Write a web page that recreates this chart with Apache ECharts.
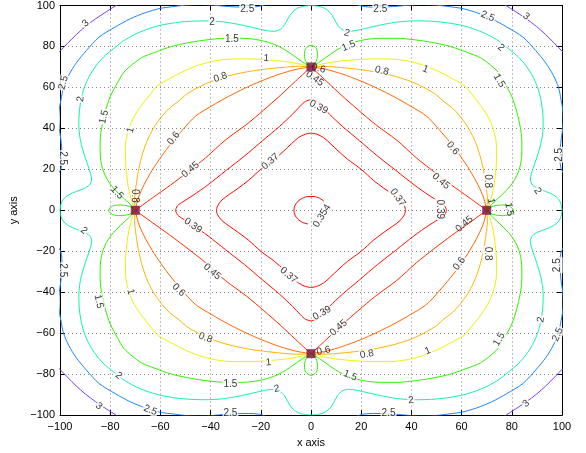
<!DOCTYPE html>
<html><head><meta charset="utf-8">
<script src="https://cdn.jsdelivr.net/npm/echarts@6/dist/echarts.min.js"></script>
<style>html,body{margin:0;padding:0;background:#fff}#chart{width:586px;height:453px}</style>
</head><body><div id="chart"></div>
<script>
// Contour levels and their colours
const levels = [0.354, 0.37, 0.39, 0.45, 0.6, 0.8, 1, 1.5, 2, 2.5, 3];
const levelColors = ['#ff0000', '#ff0700', '#ff0f00', '#ff2800', '#ff6700', '#ffb400', '#f0f000', '#2ef000', '#10f0b0', '#1a86ff', '#7a3cff'];

// Beacon positions
const beacons = [[-70, 0], [70, 0], [0, 70], [0, -70]];

// Axis ticks
const xTicks = [-100, -80, -60, -40, -20, 0, 20, 40, 60, 80, 100];
const yTicks = [-100, -80, -60, -40, -20, 0, 20, 40, 60, 80, 100];

// Contour polylines, one array of pieces per level
const c0354 = [
  [[5.2,4.4],[3.4,5.9],[1.2,6.7],[-1.2,6.7],[-3.4,5.9],[-5.2,4.4],[-6.4,2.3],[-6.8,0],[-6.4,-2.3],[-5.2,-4.4],[-3.4,-5.9],[-1.2,-6.7]]
];
const c037 = [
  [[-37.7,0],[-37.2,2.2],[-35.5,5],[-32.5,7.8],[-29,10.8],[-25,14.5],[-20,20],[-14.5,25],[-10.8,29],[-7.8,32.5],[-5,35.5],[-2.2,37.2],[0,37.7]],
  [[37.7,0],[37.2,2.2],[35.5,5],[32.5,7.8],[29,10.8],[25,14.5],[20,20],[14.5,25],[10.8,29],[7.8,32.5],[5,35.5],[2.2,37.2],[0,37.7]],
  [[37.7,0],[37.2,-2.2],[35.5,-5],[32.5,-7.8],[29,-10.8],[25,-14.5],[20,-20],[14.5,-25],[10.8,-29],[7.8,-32.5],[5,-35.5],[2.2,-37.2],[0,-37.7]],
  [[-37.7,0],[-37.2,-2.2],[-35.5,-5],[-32.5,-7.8],[-29,-10.8],[-25,-14.5],[-20,-20],[-14.5,-25],[-10.8,-29],[-7.8,-32.5],[-5,-35.5],[-2.2,-37.2],[0,-37.7]]
];
const c039 = [
  [[-54,0],[-53.2,2.2],[-51,4.2],[-47,7.3],[-41,12.5],[-34,19.3],[-26.5,26.5],[-19.3,34],[-12.5,41],[-7.3,47],[-4.2,51],[-2.2,53.2],[0,54]],
  [[54,0],[53.2,2.2],[51,4.2],[47,7.3],[41,12.5],[34,19.3],[26.5,26.5],[19.3,34],[12.5,41],[7.3,47],[4.2,51],[2.2,53.2],[0,54]],
  [[54,0],[53.2,-2.2],[51,-4.2],[47,-7.3],[41,-12.5],[34,-19.3],[26.5,-26.5],[19.3,-34],[12.5,-41],[7.3,-47],[4.2,-51],[2.2,-53.2],[0,-54]],
  [[-54,0],[-53.2,-2.2],[-51,-4.2],[-47,-7.3],[-41,-12.5],[-34,-19.3],[-26.5,-26.5],[-19.3,-34],[-12.5,-41],[-7.3,-47],[-4.2,-51],[-2.2,-53.2],[0,-54]]
];
const c045 = [
  [[-70,0],[-63,6.2],[-56,12.3],[-49,18.8],[-42,25.6],[-34.2,34.2],[-25.6,42],[-18.8,49],[-12.3,56],[-6.2,63],[0,70]],
  [[70,0],[63,6.2],[56,12.3],[49,18.8],[42,25.6],[34.2,34.2],[25.6,42],[18.8,49],[12.3,56],[6.2,63],[0,70]],
  [[70,0],[63,-6.2],[56,-12.3],[49,-18.8],[42,-25.6],[34.2,-34.2],[25.6,-42],[18.8,-49],[12.3,-56],[6.2,-63],[0,-70]],
  [[-70,0],[-63,-6.2],[-56,-12.3],[-49,-18.8],[-42,-25.6],[-34.2,-34.2],[-25.6,-42],[-18.8,-49],[-12.3,-56],[-6.2,-63],[0,-70]]
];
const c06 = [
  [[-70,0],[-68.8,6],[-66.5,12.5],[-63.3,19.5],[-59.5,26.5],[-55.5,33],[-51,39.5],[-46,46],[-39.5,51],[-33,55.5],[-26.5,59.5],[-19.5,63.3],[-12.5,66.5],[-6,68.8],[0,70]],
  [[70,0],[68.8,6],[66.5,12.5],[63.3,19.5],[59.5,26.5],[55.5,33],[51,39.5],[46,46],[39.5,51],[33,55.5],[26.5,59.5],[19.5,63.3],[12.5,66.5],[6,68.8],[0,70]],
  [[70,0],[68.8,-6],[66.5,-12.5],[63.3,-19.5],[59.5,-26.5],[55.5,-33],[51,-39.5],[46,-46],[39.5,-51],[33,-55.5],[26.5,-59.5],[19.5,-63.3],[12.5,-66.5],[6,-68.8],[0,-70]],
  [[-70,0],[-68.8,-6],[-66.5,-12.5],[-63.3,-19.5],[-59.5,-26.5],[-55.5,-33],[-51,-39.5],[-46,-46],[-39.5,-51],[-33,-55.5],[-26.5,-59.5],[-19.5,-63.3],[-12.5,-66.5],[-6,-68.8],[0,-70]]
];
const c08 = [
  [[-70,0],[-70.3,5],[-69.7,12],[-68.8,19],[-67.5,26],[-65.6,33],[-62.8,40],[-59.3,46],[-56.3,50],[-53,53],[-50,56.3],[-46,59.3],[-40,62.8],[-33,65.6],[-26,67.5],[-19,68.8],[-12,69.7],[-5,70.3],[0,70]],
  [[70,0],[70.3,5],[69.7,12],[68.8,19],[67.5,26],[65.6,33],[62.8,40],[59.3,46],[56.3,50],[53,53],[50,56.3],[46,59.3],[40,62.8],[33,65.6],[26,67.5],[19,68.8],[12,69.7],[5,70.3],[0,70]],
  [[70,0],[70.3,-5],[69.7,-12],[68.8,-19],[67.5,-26],[65.6,-33],[62.8,-40],[59.3,-46],[56.3,-50],[53,-53],[50,-56.3],[46,-59.3],[40,-62.8],[33,-65.6],[26,-67.5],[19,-68.8],[12,-69.7],[5,-70.3],[0,-70]],
  [[-70,0],[-70.3,-5],[-69.7,-12],[-68.8,-19],[-67.5,-26],[-65.6,-33],[-62.8,-40],[-59.3,-46],[-56.3,-50],[-53,-53],[-50,-56.3],[-46,-59.3],[-40,-62.8],[-33,-65.6],[-26,-67.5],[-19,-68.8],[-12,-69.7],[-5,-70.3],[0,-70]]
];
const c1 = [
  [[-70,0],[-71.3,4],[-72.6,10],[-73.4,17],[-73.9,24],[-73.9,31],[-73,38],[-71,44.5],[-68,50.5],[-64.5,56],[-61,61],[-56,64.5],[-50.5,68],[-44.5,71],[-38,73],[-31,73.9],[-24,73.9],[-17,73.4],[-10,72.6],[-4,71.3],[0,70]],
  [[70,0],[71.3,4],[72.6,10],[73.4,17],[73.9,24],[73.9,31],[73,38],[71,44.5],[68,50.5],[64.5,56],[61,61],[56,64.5],[50.5,68],[44.5,71],[38,73],[31,73.9],[24,73.9],[17,73.4],[10,72.6],[4,71.3],[0,70]],
  [[70,0],[71.3,-4],[72.6,-10],[73.4,-17],[73.9,-24],[73.9,-31],[73,-38],[71,-44.5],[68,-50.5],[64.5,-56],[61,-61],[56,-64.5],[50.5,-68],[44.5,-71],[38,-73],[31,-73.9],[24,-73.9],[17,-73.4],[10,-72.6],[4,-71.3],[0,-70]],
  [[-70,0],[-71.3,-4],[-72.6,-10],[-73.4,-17],[-73.9,-24],[-73.9,-31],[-73,-38],[-71,-44.5],[-68,-50.5],[-64.5,-56],[-61,-61],[-56,-64.5],[-50.5,-68],[-44.5,-71],[-38,-73],[-31,-73.9],[-24,-73.9],[-17,-73.4],[-10,-72.6],[-4,-71.3],[0,-70]]
];
const c15 = [
  [[-70,0],[-72.5,3.5],[-76,7.5],[-79.5,12],[-82,17],[-83.5,22.5],[-84,28],[-84,34],[-83.3,41],[-82,48],[-80,55.5],[-77,62.5],[-74.5,67.5],[-71.2,71.2],[-67.5,74.5],[-62.5,77],[-55.5,80],[-48,82],[-41,83.3],[-34,84],[-28,84],[-22.5,83.5],[-17,82],[-12,79.5],[-7.5,76],[-3.5,72.5],[0,70]],
  [[70,0],[72.5,3.5],[76,7.5],[79.5,12],[82,17],[83.5,22.5],[84,28],[84,34],[83.3,41],[82,48],[80,55.5],[77,62.5],[74.5,67.5],[71.2,71.2],[67.5,74.5],[62.5,77],[55.5,80],[48,82],[41,83.3],[34,84],[28,84],[22.5,83.5],[17,82],[12,79.5],[7.5,76],[3.5,72.5],[0,70]],
  [[70,0],[72.5,-3.5],[76,-7.5],[79.5,-12],[82,-17],[83.5,-22.5],[84,-28],[84,-34],[83.3,-41],[82,-48],[80,-55.5],[77,-62.5],[74.5,-67.5],[71.2,-71.2],[67.5,-74.5],[62.5,-77],[55.5,-80],[48,-82],[41,-83.3],[34,-84],[28,-84],[22.5,-83.5],[17,-82],[12,-79.5],[7.5,-76],[3.5,-72.5],[0,-70]],
  [[-70,0],[-72.5,-3.5],[-76,-7.5],[-79.5,-12],[-82,-17],[-83.5,-22.5],[-84,-28],[-84,-34],[-83.3,-41],[-82,-48],[-80,-55.5],[-77,-62.5],[-74.5,-67.5],[-71.2,-71.2],[-67.5,-74.5],[-62.5,-77],[-55.5,-80],[-48,-82],[-41,-83.3],[-34,-84],[-28,-84],[-22.5,-83.5],[-17,-82],[-12,-79.5],[-7.5,-76],[-3.5,-72.5],[0,-70]],
  [[-70,0],[-72.5,2],[-76,2.6],[-79,2.1],[-80.6,0],[-79,-2.1],[-76,-2.6],[-72.5,-2],[-70,0]],
  [[70,0],[72.5,2],[76,2.6],[79,2.1],[80.6,0],[79,-2.1],[76,-2.6],[72.5,-2],[70,0]],
  [[0,70],[-2,72.5],[-2.6,76],[-2.1,79],[0,80.6],[2.1,79],[2.6,76],[2,72.5],[0,70]],
  [[0,-70],[-2,-72.5],[-2.6,-76],[-2.1,-79],[0,-80.6],[2.1,-79],[2.6,-76],[2,-72.5],[0,-70]]
];
const c2 = [
  [[-100,0],[-99.6,3],[-98.6,5.5],[-96.5,7.6],[-93.5,9.2],[-90.5,10.6],[-88.3,12.3],[-87.4,14.8],[-87.8,18],[-89.2,23],[-90.8,29],[-92,35],[-92.5,42],[-92.3,48],[-91.6,54],[-90.3,60],[-88.3,65.5],[-85.7,70.5],[-82.5,75],[-78.8,78.8],[-75,82.5],[-70.5,85.7],[-65.5,88.3],[-60,90.3],[-54,91.6],[-48,92.3],[-42,92.5],[-35,92],[-29,90.8],[-23,89.2],[-18,87.8],[-14.8,87.4],[-12.3,88.3],[-10.6,90.5],[-9.2,93.5],[-7.6,96.5],[-5.5,98.6],[-3,99.6],[0,100]],
  [[100,0],[99.6,3],[98.6,5.5],[96.5,7.6],[93.5,9.2],[90.5,10.6],[88.3,12.3],[87.4,14.8],[87.8,18],[89.2,23],[90.8,29],[92,35],[92.5,42],[92.3,48],[91.6,54],[90.3,60],[88.3,65.5],[85.7,70.5],[82.5,75],[78.8,78.8],[75,82.5],[70.5,85.7],[65.5,88.3],[60,90.3],[54,91.6],[48,92.3],[42,92.5],[35,92],[29,90.8],[23,89.2],[18,87.8],[14.8,87.4],[12.3,88.3],[10.6,90.5],[9.2,93.5],[7.6,96.5],[5.5,98.6],[3,99.6],[0,100]],
  [[100,0],[99.6,-3],[98.6,-5.5],[96.5,-7.6],[93.5,-9.2],[90.5,-10.6],[88.3,-12.3],[87.4,-14.8],[87.8,-18],[89.2,-23],[90.8,-29],[92,-35],[92.5,-42],[92.3,-48],[91.6,-54],[90.3,-60],[88.3,-65.5],[85.7,-70.5],[82.5,-75],[78.8,-78.8],[75,-82.5],[70.5,-85.7],[65.5,-88.3],[60,-90.3],[54,-91.6],[48,-92.3],[42,-92.5],[35,-92],[29,-90.8],[23,-89.2],[18,-87.8],[14.8,-87.4],[12.3,-88.3],[10.6,-90.5],[9.2,-93.5],[7.6,-96.5],[5.5,-98.6],[3,-99.6],[0,-100]],
  [[-100,0],[-99.6,-3],[-98.6,-5.5],[-96.5,-7.6],[-93.5,-9.2],[-90.5,-10.6],[-88.3,-12.3],[-87.4,-14.8],[-87.8,-18],[-89.2,-23],[-90.8,-29],[-92,-35],[-92.5,-42],[-92.3,-48],[-91.6,-54],[-90.3,-60],[-88.3,-65.5],[-85.7,-70.5],[-82.5,-75],[-78.8,-78.8],[-75,-82.5],[-70.5,-85.7],[-65.5,-88.3],[-60,-90.3],[-54,-91.6],[-48,-92.3],[-42,-92.5],[-35,-92],[-29,-90.8],[-23,-89.2],[-18,-87.8],[-14.8,-87.4],[-12.3,-88.3],[-10.6,-90.5],[-9.2,-93.5],[-7.6,-96.5],[-5.5,-98.6],[-3,-99.6],[0,-100]]
];
const c25 = [
  [[-104,0],[-103,10],[-101,17],[-99.6,20.5],[-99.2,25],[-99.3,30],[-99.7,35],[-100.3,40],[-100.5,45],[-100.2,50],[-99.6,54],[-98.6,60],[-96.5,66],[-93.5,72],[-89.5,78],[-84.5,84.5],[-78,89.5],[-72,93.5],[-66,96.5],[-60,98.6],[-54,99.6],[-50,100.2],[-45,100.5],[-40,100.3],[-35,99.7],[-30,99.3],[-25,99.2],[-20.5,99.6],[-17,101],[-10,103],[0,104]],
  [[104,0],[103,10],[101,17],[99.6,20.5],[99.2,25],[99.3,30],[99.7,35],[100.3,40],[100.5,45],[100.2,50],[99.6,54],[98.6,60],[96.5,66],[93.5,72],[89.5,78],[84.5,84.5],[78,89.5],[72,93.5],[66,96.5],[60,98.6],[54,99.6],[50,100.2],[45,100.5],[40,100.3],[35,99.7],[30,99.3],[25,99.2],[20.5,99.6],[17,101],[10,103],[0,104]],
  [[104,0],[103,-10],[101,-17],[99.6,-20.5],[99.2,-25],[99.3,-30],[99.7,-35],[100.3,-40],[100.5,-45],[100.2,-50],[99.6,-54],[98.6,-60],[96.5,-66],[93.5,-72],[89.5,-78],[84.5,-84.5],[78,-89.5],[72,-93.5],[66,-96.5],[60,-98.6],[54,-99.6],[50,-100.2],[45,-100.5],[40,-100.3],[35,-99.7],[30,-99.3],[25,-99.2],[20.5,-99.6],[17,-101],[10,-103],[0,-104]],
  [[-104,0],[-103,-10],[-101,-17],[-99.6,-20.5],[-99.2,-25],[-99.3,-30],[-99.7,-35],[-100.3,-40],[-100.5,-45],[-100.2,-50],[-99.6,-54],[-98.6,-60],[-96.5,-66],[-93.5,-72],[-89.5,-78],[-84.5,-84.5],[-78,-89.5],[-72,-93.5],[-66,-96.5],[-60,-98.6],[-54,-99.6],[-50,-100.2],[-45,-100.5],[-40,-100.3],[-35,-99.7],[-30,-99.3],[-25,-99.2],[-20.5,-99.6],[-17,-101],[-10,-103],[0,-104]]
];
const c3 = [
  [[-101,76.5],[-100,77.7],[-97,81.5],[-93.5,85.8],[-89.8,89.8],[-85.8,93.5],[-81.5,97],[-77.7,100],[-76.5,101]],
  [[101,76.5],[100,77.7],[97,81.5],[93.5,85.8],[89.8,89.8],[85.8,93.5],[81.5,97],[77.7,100],[76.5,101]],
  [[101,-76.5],[100,-77.7],[97,-81.5],[93.5,-85.8],[89.8,-89.8],[85.8,-93.5],[81.5,-97],[77.7,-100],[76.5,-101]],
  [[-101,-76.5],[-100,-77.7],[-97,-81.5],[-93.5,-85.8],[-89.8,-89.8],[-85.8,-93.5],[-81.5,-97],[-77.7,-100],[-76.5,-101]]
];
const contourSets = [c0354, c037, c039, c045, c06, c08, c1, c15, c2, c25, c3];

// Inline contour labels: x, y, level text, text angle
const labelSpots = [
  [4.4,-2.7,'0.354',58],
  [-16.2,23.8,'0.37',40],[34.6,6.2,'0.37',-55],[-8.9,-31.7,'0.37',-40],
  [3,50.4,'0.39',-28],[-47,-7.5,'0.39',-35],[51.2,0.5,'0.39',-90],[4.4,-50.2,'0.39',30],
  [-48,19.8,'0.45',40],[-39.4,-30,'0.45',-40],[51.8,14.2,'0.45',-40],[61.1,-6.7,'0.45',40],[11,-57.4,'0.45',40],[1.5,64.3,'0.45',-35],
  [-54.7,35.1,'0.6',52],[56.5,30.3,'0.6',-52],[59.1,-26,'0.6',52],[-52.7,-38.9,'0.6',-45],[3,69.3,'0.6',-15],[5,-68.6,'0.6',12],
  [-36.1,64.9,'0.8',18],[28.2,68.1,'0.8',-15],[70.4,14.2,'0.8',-90],[70.4,-21.2,'0.8',-90],[-42,-62.3,'0.8',-20],[22.3,-70.3,'0.8',10],[-70.4,7,'0.8',-90],
  [-71.9,39.1,'1',75],[-17.8,74.2,'1',-5],[45.6,68.9,'1',-22],[46.5,-68.6,'1',22],[-16.9,-74.3,'1',5],[-71.9,-39.7,'1',-75],[71.7,4.5,'1',-80],
  [-82.5,45.6,'1.5',77],[-31.5,83.4,'1.5',0],[15,80.2,'1.5',22],[75,63.3,'1.5',-59],[-77.3,8.6,'1.5',-47],[79,0.5,'1.5',-80],[-84.6,-44.5,'1.5',-77],[-32.1,-84.8,'1.5',0],[15.6,-80.7,'1.5',-22],[75,-63,'1.5',59],
  [-91.8,54.4,'2',84],[-39.4,91.9,'2',0],[14.3,86.6,'2',-15],[75.7,79.4,'2',-40],[90.3,9.4,'2',-55],[-90.5,-9.9,'2',-40],[-76.6,-80.7,'2',-40],[-13.6,-87.2,'2',10],[39.9,-92.8,'2',5],[91.6,-53.4,'2',82],
  [-25.4,98,'2.5',0],[27.6,98,'2.5',0],[70.4,94.7,'2.5',-22],[98.9,27.1,'2.5',90],[98.3,-26.8,'2.5',90],[98.3,-60.6,'2.5',66],[30.9,-99.3,'2.5',0],[-32.1,-99.3,'2.5',0],[-64,-97.6,'2.5',-22],[-99.1,-29.3,'2.5',-90],[-99.1,25.5,'2.5',-90],[-98.6,62.3,'2.5',75],
  [-89.8,91.3,'3',40],[85.7,94.7,'3',-40],[-84.5,-95.7,'3',-40],[85.7,-94.4,'3',40]
];

const FONT = '"Liberation Sans", Arial, Helvetica, sans-serif';
const fmt = v => (v < 0 ? '\u2212' + Math.abs(v) : String(v));

const series = [];
contourSets.forEach((pieces, i) => {
  pieces.forEach(piece => {
    series.push({
      type: 'line', data: piece, smooth: 0.3, symbol: 'none', showSymbol: false,
      lineStyle: { color: levelColors[i], width: 1 }, clip: true, silent: true, z: 2
    });
  });
});

const nearBeacon = (x, y) => beacons.some(([bx, by]) => Math.hypot(x - bx, y - by) < 12);
series.push({
  type: 'scatter', symbolSize: 1, itemStyle: { color: 'rgba(0,0,0,0)' }, silent: true, z: 3,
  data: labelSpots.map(([x, y, t, a]) => ({
    value: [x, y], name: t,
    label: { rotate: a, backgroundColor: nearBeacon(x, y) ? 'transparent' : '#fff' }
  })),
  label: { show: true, position: 'inside', formatter: '{b}', fontSize: 10, color: '#000', fontFamily: FONT, padding: [0, 1] }
});
series.push({
  type: 'scatter', data: beacons, symbol: 'rect', symbolSize: 9, silent: true, z: 5,
  itemStyle: { color: '#7d0a3c' }
});

const frameAxis = (pos) => ({
  type: 'value', min: xTicks[0], max: xTicks[xTicks.length - 1], interval: 20, position: pos,
  axisLine: { show: true, onZero: false, lineStyle: { color: '#000', width: 1 } },
  axisTick: { show: true, inside: true, length: 5, lineStyle: { color: '#000' } },
  axisLabel: { show: false }, splitLine: { show: false }
});

const chart = echarts.init(document.getElementById('chart'), null, { renderer: 'canvas' });
chart.setOption({
  animation: false,
  backgroundColor: '#fff',
  grid: { left: 60, right: 24, top: 4, bottom: 35 },
  xAxis: [{
    type: 'value', min: xTicks[0], max: xTicks[xTicks.length - 1], interval: 20, position: 'bottom',
    axisLine: { show: true, onZero: false, lineStyle: { color: '#000', width: 1 } },
    axisTick: { show: true, inside: true, length: 5, lineStyle: { color: '#000' } },
    axisLabel: { color: '#000', fontSize: 11, margin: 6, fontFamily: FONT, formatter: fmt },
    splitLine: { show: true, lineStyle: { color: '#808080', type: [1, 3], width: 1 } },
    name: 'x axis', nameLocation: 'middle', nameGap: 20,
    nameTextStyle: { color: '#000', fontSize: 11, fontFamily: FONT }
  }, frameAxis('top')],
  yAxis: [{
    type: 'value', min: yTicks[0], max: yTicks[yTicks.length - 1], interval: 20, position: 'left',
    axisLine: { show: true, onZero: false, lineStyle: { color: '#000', width: 1 } },
    axisTick: { show: true, inside: true, length: 5, lineStyle: { color: '#000' } },
    axisLabel: { color: '#000', fontSize: 11, margin: 5, fontFamily: FONT, formatter: fmt },
    splitLine: { show: true, lineStyle: { color: '#808080', type: [1, 3], width: 1 } },
    name: 'y axis', nameLocation: 'middle', nameGap: 33,
    nameTextStyle: { color: '#000', fontSize: 11, fontFamily: FONT }
  }, frameAxis('right')],
  series: series
});
</script></body></html>
